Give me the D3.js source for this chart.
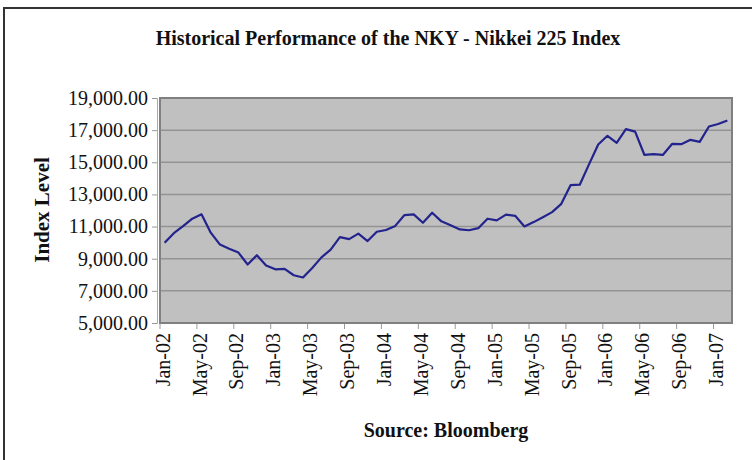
<!DOCTYPE html>
<html>
<head>
<meta charset="utf-8">
<script src="https://cdn.jsdelivr.net/npm/d3@7"></script>
<style>
  body { margin: 0; background: #fff; }
  text { font-family: "Liberation Serif", "Times New Roman", serif; fill: #111; }
</style>
</head>
<body>
<svg id="chart"></svg>
<script>
// Chart size
const svgWidth = 752;
const svgHeight = 460;
const margin = { top: 98, right: 20, bottom: 137, left: 160 };

// Data (monthly index level)
const values2002 = [9998, 10588, 11025, 11493, 11764, 10622, 9878, 9619, 9383, 8640, 9216, 8579];
const values2003 = [8340, 8363, 7973, 7831, 8425, 9083, 9563, 10344, 10219, 10560, 10101, 10677];
const values2004 = [10784, 11042, 11715, 11762, 11236, 11859, 11326, 11082, 10824, 10771, 10899, 11489];
const values2005 = [11388, 11741, 11669, 11009, 11277, 11584, 11900, 12414, 13574, 13607, 14872, 16111];
const values2006 = [16650, 16205, 17060, 16906, 15467, 15505, 15457, 16141, 16128, 16399, 16274, 17226];
const values2007 = [17383, 17604];
const values = [].concat(values2002, values2003, values2004, values2005, values2006, values2007);

// Categories: one per month, Jan-02 onwards
const months = d3.utcMonths(new Date(Date.UTC(2002, 0, 1)), new Date(Date.UTC(2002, values.length, 1)));
const monthFormat = d3.utcFormat("%b-%y");

const yTicks = [5000, 7000, 9000, 11000, 13000, 15000, 17000, 19000];

const width = svgWidth - margin.left - margin.right;
const height = svgHeight - margin.top - margin.bottom;

const svg = d3.select("#chart")
    .attr("width", svgWidth)
    .attr("height", svgHeight);

// Outer frame (left and top edges)
svg.append("path")
    .attr("d", `M4,${svgHeight} V8 H${svgWidth}`)
    .attr("fill", "none")
    .attr("stroke", "#333")
    .attr("stroke-width", 2);

// Title
svg.append("text")
    .attr("x", 388)
    .attr("y", 45)
    .attr("text-anchor", "middle")
    .style("font-size", "20px")
    .style("font-weight", "bold")
    .text("Historical Performance of the NKY - Nikkei 225 Index");

const g = svg.append("g")
    .attr("transform", `translate(${margin.left},${margin.top})`);

// Scales
const x = d3.scaleBand()
    .domain(d3.range(values.length))
    .range([0, width])
    .padding(0);

const y = d3.scaleLinear()
    .domain([5000, 19000])
    .range([height, 0]);

// Plot area
g.append("rect")
    .attr("width", width)
    .attr("height", height)
    .attr("fill", "#c0c0c0");

// Gridlines
g.selectAll(".grid")
    .data(yTicks.slice(1, -1))
    .enter().append("line")
    .attr("class", "grid")
    .attr("x1", 0)
    .attr("x2", width)
    .attr("y1", d => y(d))
    .attr("y2", d => y(d))
    .attr("stroke", "#939393")
    .attr("stroke-width", 1.5);

g.append("rect")
    .attr("width", width)
    .attr("height", height)
    .attr("fill", "none")
    .attr("stroke", "#808080")
    .attr("stroke-width", 2);

// Y axis
const yAxis = d3.axisLeft(y)
    .tickValues(yTicks)
    .tickSize(5)
    .tickPadding(4)
    .tickFormat(d3.format(",.2f"));

g.append("g")
    .attr("transform", "translate(-3,0)")
    .call(yAxis)
    .call(a => a.select(".domain").attr("stroke", "#aaa"))
    .call(a => a.selectAll(".tick line").attr("stroke", "#999"))
    .call(a => a.selectAll("text")
        .style("font-size", "20px")
        .style("font-family", "Liberation Serif")
        .attr("fill", "#111"));

// X tick marks between categories, every 4 months
const tickIdx = d3.range(0, values.length + 1, 4);
g.selectAll(".xtick")
    .data(tickIdx)
    .enter().append("line")
    .attr("class", "xtick")
    .attr("x1", d => d < values.length ? x(d) : width)
    .attr("x2", d => d < values.length ? x(d) : width)
    .attr("y1", height + 1)
    .attr("y2", height + 6)
    .attr("stroke", "#999");

// X labels, rotated
g.selectAll(".xlabel")
    .data(d3.range(0, values.length, 4))
    .enter().append("text")
    .attr("class", "xlabel")
    .attr("transform", d => `translate(${x(d) + x.bandwidth() / 2 + 5},${height + 10}) rotate(-90)`)
    .attr("text-anchor", "end")
    .style("font-size", "20px")
    .text(d => monthFormat(months[d]));

// Line
const line = d3.line()
    .x((d, i) => x(i) + x.bandwidth() / 2)
    .y(d => y(d));

g.append("path")
    .datum(values)
    .attr("d", line)
    .attr("fill", "none")
    .attr("stroke", "#23238e")
    .attr("stroke-width", 2.2)
    .attr("stroke-linejoin", "round");

// Axis titles
svg.append("text")
    .attr("transform", "translate(49,210) rotate(-90)")
    .attr("text-anchor", "middle")
    .style("font-size", "21px")
    .style("font-weight", "bold")
    .text("Index Level");

svg.append("text")
    .attr("x", margin.left + width / 2)
    .attr("y", 437)
    .attr("text-anchor", "middle")
    .style("font-size", "20px")
    .style("font-weight", "bold")
    .text("Source: Bloomberg");
</script>
</body>
</html>
